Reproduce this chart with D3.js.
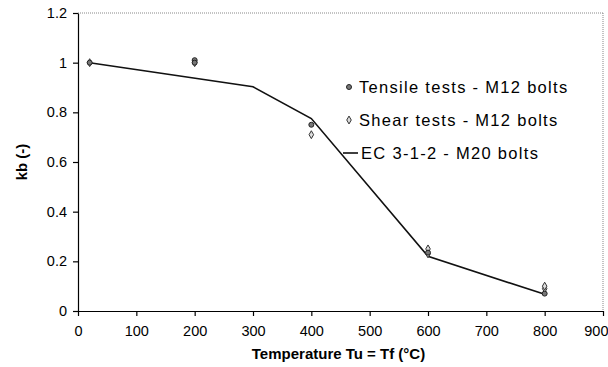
<!DOCTYPE html>
<html>
<head>
<meta charset="utf-8">
<script src="https://cdn.jsdelivr.net/npm/d3@7"></script>
<style>
  body { margin: 0; background: #fff; }
  text { font-family: "Liberation Sans", Arial, sans-serif; fill: #000; }
  .axis text { font-size: 14.5px; }
  .title { font-size: 15px; font-weight: bold; }
  .legend text { font-size: 16.5px; letter-spacing: 1.3px; }
</style>
</head>
<body>
<svg id="chart" width="608" height="367"></svg>
<script>
// data
var xTicks = [0, 100, 200, 300, 400, 500, 600, 700, 800, 900];
var yTicks = [0, 0.2, 0.4, 0.6, 0.8, 1, 1.2];

var ecTemp = [20, 300, 400, 600, 800];
var ecKb = [1, 0.903, 0.775, 0.22, 0.067];

var tensileTemp = [20, 200, 200, 400, 600, 800];
var tensileKb = [1, 1.01, 1.0, 0.75, 0.235, 0.07];

var shearTemp = [20, 200, 400, 600, 600, 800, 800];
var shearKb = [1, 1.0, 0.71, 0.25, 0.23, 0.09, 0.1];

var legendNames = ["Tensile tests - M12 bolts", "Shear tests - M12 bolts", "EC 3-1-2 - M20 bolts"];

var margin = {top: 13, right: 5, bottom: 56, left: 78};
var width = 608 - margin.left - margin.right;
var height = 367 - margin.top - margin.bottom;

var scaleX = d3.scaleLinear().domain([0, 900]).range([0, 525]);
var scaleY = d3.scaleLinear().domain([0, 1.2]).range([298, 0]);

var svg = d3.select("#chart");
var chart = svg.append("g")
    .attr("transform", "translate(" + margin.left + "," + margin.top + ")");

// dotted frame top and right
chart.append("line")
    .attr("x1", 0).attr("x2", scaleX(900))
    .attr("y1", 0).attr("y2", 0)
    .attr("stroke", "#888").attr("stroke-dasharray", "1,1");
chart.append("line")
    .attr("x1", scaleX(900)).attr("x2", scaleX(900))
    .attr("y1", 0).attr("y2", scaleY(0))
    .attr("stroke", "#888").attr("stroke-dasharray", "1,1");

// axes
var xAxis = d3.axisBottom(scaleX).tickValues(xTicks).tickSize(5).tickSizeOuter(0).tickPadding(10);
var yAxis = d3.axisLeft(scaleY).tickValues(yTicks).tickSize(5).tickSizeOuter(0).tickPadding(6)
    .tickFormat(function(d) { return d3.format("")(+d.toFixed(1)); });

var gx = chart.append("g")
    .attr("class", "x axis")
    .attr("transform", "translate(0," + scaleY(0) + ")")
    .call(xAxis);
var gy = chart.append("g")
    .attr("class", "y axis")
    .call(yAxis);
chart.selectAll(".axis path, .axis line").attr("stroke", "#000").attr("stroke-width", 1.2);

// keep the last x label inside the window
gx.selectAll(".tick text")
    .filter(function(d) { return d == 900; })
    .attr("text-anchor", "end")
    .attr("x", 5);

// titles
chart.append("text")
    .attr("class", "title")
    .attr("x", scaleX(450) - 2)
    .attr("y", height + 48)
    .attr("text-anchor", "middle")
    .text("Temperature Tu = Tf (°C)");
chart.append("text")
    .attr("class", "title")
    .attr("transform", "translate(-51," + scaleY(0.6) + ") rotate(-90)")
    .attr("text-anchor", "middle")
    .text("kb (-)");

// EC line
var line = d3.line()
    .x(function(d) { return scaleX(d[0]); })
    .y(function(d) { return scaleY(d[1]); });
chart.append("path")
    .datum(d3.zip(ecTemp, ecKb))
    .attr("d", line)
    .attr("fill", "none")
    .attr("stroke", "#111")
    .attr("stroke-width", 1.6);

// markers
var diamond = d3.symbol().type(d3.symbolDiamond).size(18);
chart.selectAll(".shear")
    .data(d3.zip(shearTemp, shearKb))
    .enter()
    .append("path")
        .attr("class", "shear")
        .attr("transform", function(d) { return "translate(" + scaleX(d[0]) + "," + scaleY(d[1]) + ")"; })
        .attr("d", diamond)
        .attr("fill", "#ddd")
        .attr("stroke", "#333")
        .attr("stroke-width", 1);

chart.selectAll(".tensile")
    .data(d3.zip(tensileTemp, tensileKb))
    .enter()
    .append("circle")
        .attr("class", "tensile")
        .attr("cx", function(d) { return scaleX(d[0]); })
        .attr("cy", function(d) { return scaleY(d[1]); })
        .attr("r", 2.5)
        .attr("fill", "#777")
        .attr("stroke", "#222")
        .attr("stroke-width", 1);

// legend
var legend = chart.append("g")
    .attr("class", "legend")
    .attr("transform", "translate(271,74)");
var rows = legend.selectAll("g")
    .data(legendNames)
    .enter()
    .append("g")
        .attr("transform", function(d, i) { return "translate(0," + (i * 33) + ")"; });
rows.append("text")
    .attr("x", function(d, i) { return i == 2 ? 12 : 10; })
    .attr("y", 6)
    .text(function(d) { return d; });
rows.filter(function(d, i) { return i == 0; })
    .append("circle")
        .attr("cx", 0).attr("r", 2.5)
        .attr("fill", "#777").attr("stroke", "#222");
rows.filter(function(d, i) { return i == 1; })
    .append("path")
        .attr("d", diamond)
        .attr("fill", "#ddd").attr("stroke", "#333");
rows.filter(function(d, i) { return i == 2; })
    .append("line")
        .attr("x1", -6).attr("x2", 9)
        .attr("stroke", "#111").attr("stroke-width", 1.6);
</script>
</body>
</html>
